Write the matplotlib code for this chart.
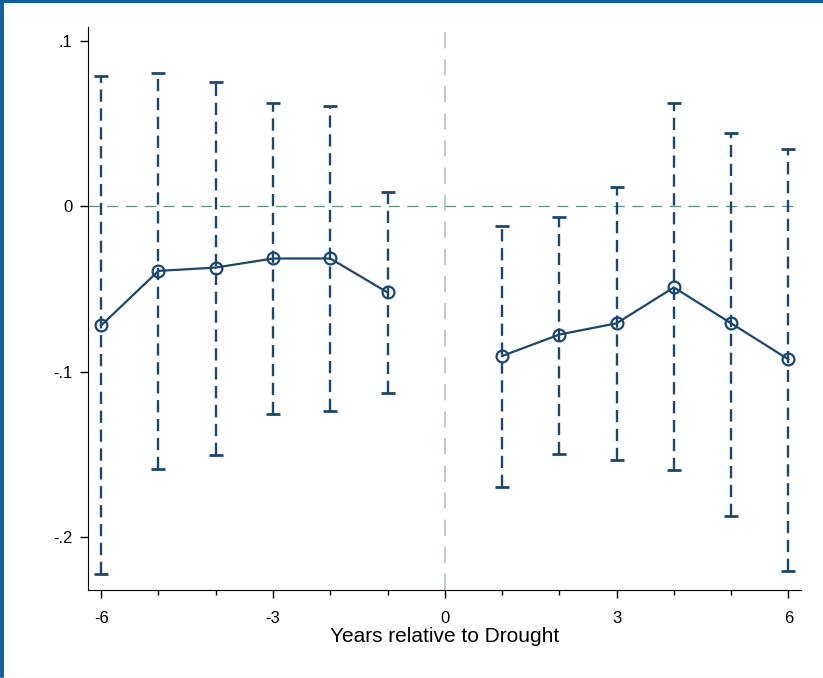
import matplotlib
matplotlib.use("Agg")
import matplotlib.pyplot as plt
from matplotlib.lines import Line2D
import numpy as np

plt.rcParams['font.family'] = ['Liberation Sans', 'DejaVu Sans']

years_pre = [-6, -5, -4, -3, -2, -1]
coef_pre = [-0.072, -0.039, -0.037, -0.0315, -0.0315, -0.052]
lo_pre = [-0.2225, -0.159, -0.1505, -0.1255, -0.1235, -0.113]
hi_pre = [0.079, 0.0805, 0.0755, 0.0625, 0.061, 0.009]

years_post = [1, 2, 3, 4, 5, 6]
coef_post = [-0.0905, -0.0775, -0.0707, -0.049, -0.0707, -0.0925]
lo_post = [-0.170, -0.1495, -0.1535, -0.1595, -0.187, -0.2205]
hi_post = [-0.012, -0.0065, 0.012, 0.0625, 0.0445, 0.035]

xticks = [-6, -3, 0, 3, 6]
xminor = [-5, -4, -2, -1, 1, 2, 4, 5]
yticks = [0.1, 0.0, -0.1, -0.2]
ytick_labels = ['.1', '0', '-.1', '-.2']
xlabel = 'Years relative to Drought'

navy = '#1a476f'

fig = plt.figure(figsize=(8.23, 6.78), dpi=100)
ax = fig.add_axes([88/823, 1 - 590/678, (801-88)/823, (590-27)/678])

ax.axhline(0, color='#5f8f80', lw=0.9, ls=(0, (9, 6)), zorder=1)
ax.axvline(0, color='#b4c6c2', lw=1.3, ls=(0, (9, 6)), zorder=1)

for yrs, c, lo, hi in [(years_pre, coef_pre, lo_pre, hi_pre),
                       (years_post, coef_post, lo_post, hi_post)]:
    yrs = np.array(yrs); c = np.array(c); lo = np.array(lo); hi = np.array(hi)
    eb = ax.errorbar(yrs, c, yerr=[c - lo, hi - c], fmt='none', ecolor=navy,
                     elinewidth=1.7, capsize=5, capthick=2, zorder=2)
    for lc in eb[2]:
        lc.set_linestyle((0, (5.2, 2.8)))
    ax.plot(yrs, c, color=navy, lw=1.6, marker='o', ms=8.5, mfc='none',
            mec=navy, mew=1.6, zorder=3)

ax.set_xlim(-6.23, 6.22)
ax.set_ylim(-0.232, 0.1085)
ax.set_xticks(xticks)
ax.set_xticklabels([str(v) for v in xticks])
ax.set_xticks(xminor, minor=True)
ax.set_yticks(yticks)
ax.set_yticklabels(ytick_labels)
ax.tick_params(axis='both', which='major', length=6, width=1, labelsize=12)
ax.tick_params(axis='x', which='major', pad=9)
ax.tick_params(axis='y', which='major', pad=5)
ax.tick_params(axis='x', which='minor', length=3.5, width=1)
ax.spines['top'].set_visible(False)
ax.spines['right'].set_visible(False)
ax.set_xlabel(xlabel, fontsize=15, labelpad=1)

# figure border lines
fig.add_artist(Line2D([0, 1], [1 - 1/678, 1 - 1/678], transform=fig.transFigure,
                      color='#0b5ea0', lw=2.2))
fig.add_artist(Line2D([1.5/823, 1.5/823], [0, 1], transform=fig.transFigure,
                      color='#0b5ea0', lw=2.8))
fig.add_artist(Line2D([0, 1], [0.5/678, 0.5/678], transform=fig.transFigure,
                      color='#e6e6e6', lw=1))

fig.savefig('out.png', dpi=100)
